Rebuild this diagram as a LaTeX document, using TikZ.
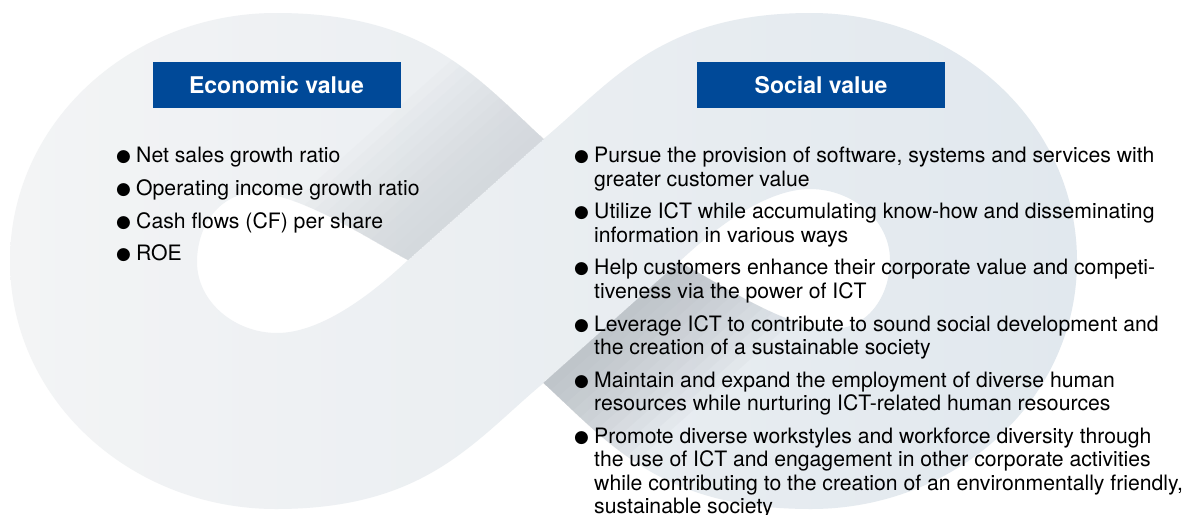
\documentclass[tikz,border=0pt]{standalone}
\usepackage{fontspec}
\setmainfont{TeX Gyre Heros}
\newfontfamily\symfont{DejaVu Sans}
\usetikzlibrary{positioning,calc}

\definecolor{headblue}{RGB}{0,73,152}
\definecolor{bandgray}{RGB}{243,244,245}
\definecolor{bandblue}{RGB}{225,232,238}
\definecolor{shadelight}{RGB}{204,209,214}
\definecolor{shadedark}{RGB}{172,178,185}

\newcommand{\bul}{\makebox[20pt][l]{\raisebox{1pt}{\symfont\fontsize{17}{17}\selectfont ●}}}
\newcommand{\ind}{\hspace*{20pt}}

\tikzset{
  header/.style={fill=headblue, text=white, font=\bfseries\fontsize{23}{23}\selectfont,
    minimum width=248pt, minimum height=46pt, inner sep=0pt},
  itemlist/.style={align=left, inner sep=0pt, anchor=north west,
    font=\fontsize{21.2}{23.4}\selectfont}
}

\begin{document}
\begin{tikzpicture}[x=1pt,y=-1pt]
        \useasboundingbox (0,0) rectangle (1193,514);
        \fill[white] (0,0) rectangle (1193,514);

        % Crossing points
        \coordinate (N) at (543.5,139);
        \coordinate (S) at (543.5,383);
        \coordinate (P) at (408,260);
        \coordinate (Q) at (679,262);

        % Infinity band with its two holes
        \def\band{(N) .. controls (477,78) and (426,13) .. (276,13)
            .. controls (131,13) and (10,122) .. (10,261)
            .. controls (10,400) and (131,509) .. (276,509)
            .. controls (426,509) and (474,441) .. (S)
            .. controls (610,444) and (661,509) .. (811,509)
            .. controls (956,509) and (1077,400) .. (1077,261)
            .. controls (1077,122) and (956,13) .. (811,13)
            .. controls (661,13) and (613,81) .. (N) -- cycle
            (P) .. controls (370,240) and (300,193) .. (255,193)
            .. controls (220,193) and (197,225) .. (197,262)
            .. controls (197,302) and (235,333) .. (277,333)
            .. controls (320,333) and (370,296) .. (P) -- cycle
            (Q) .. controls (717,282) and (787,329) .. (832,329)
            .. controls (867,329) and (890,297) .. (890,260)
            .. controls (890,220) and (852,189) .. (810,189)
            .. controls (767,189) and (717,226) .. (Q) -- cycle}
        \shade[even odd rule, left color=bandgray, right color=bandblue] \band;

        % Shadow on the strand that passes under, upper left
        \begin{scope}[even odd rule]
          \clip \band;
          \clip (P) -- (N) -- (480,-30) -- (100,-30) -- (100,190) -- (255,190) -- cycle;
          \foreach \w in {10,20,...,120}
            \fill[shadelight, opacity=0.08] ($(P)+(-111.9,99.9)$) -- (N)
              -- ++(-0.6661*\w,-0.7459*\w) -- ($(P)+(-111.9-0.6661*\w,99.9-0.7459*\w)$) -- cycle;
        \end{scope}

        % Shadow on the strand that passes under, lower right
        \begin{scope}[even odd rule]
          \clip \band;
          \clip (Q) -- (S) -- (607,552) -- (987,552) -- (987,332) -- (832,332) -- cycle;
          \foreach \w in {10,20,...,120}
            \fill[shadedark, opacity=0.08] ($(Q)+(111.9,-99.9)$) -- (S)
              -- ++(0.6661*\w,0.7459*\w) -- ($(Q)+(111.9+0.6661*\w,-99.9+0.7459*\w)$) -- cycle;
        \end{scope}

        % Headers
        \node[header] (econ) at (276.5,85.3) {Economic value};
        \node[header] (social) at (821,85.3) {Social value};

        % Economic value list
        \node[itemlist] (econlist) at (116,147) {\bul Net sales growth ratio\\[9.3pt]
          \bul Operating income growth ratio\\[9.3pt]
          \bul Cash flows (CF) per share\\[9.3pt]
          \bul ROE};

        % Social value list
        \node[itemlist] (sociallist) at (574,147) {\bul Pursue the provision of software, systems and services with\\
          \ind greater customer value\\[9.3pt]
          \bul Utilize ICT while accumulating know-how and disseminating\\
          \ind information in various ways\\[9.3pt]
          \bul Help customers enhance their corporate value and competi-\\
          \ind tiveness via the power of ICT\\[9.3pt]
          \bul Leverage ICT to contribute to sound social development and\\
          \ind the creation of a sustainable society\\[9.3pt]
          \bul Maintain and expand the employment of diverse human\\
          \ind resources while nurturing ICT-related human resources\\[9.3pt]
          \bul Promote diverse workstyles and workforce diversity through\\
          \ind the use of ICT and engagement in other corporate activities\\
          \ind while contributing to the creation of an environmentally friendly,\\
          \ind sustainable society};
\end{tikzpicture}
\end{document}
